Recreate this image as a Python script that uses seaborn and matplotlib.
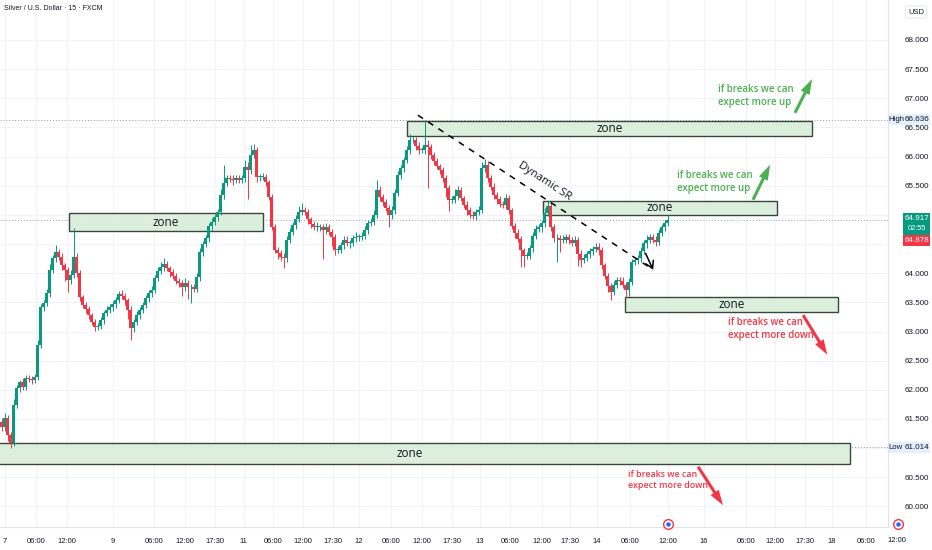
import numpy as np
import pandas as pd
import matplotlib
matplotlib.use("Agg")
import matplotlib.pyplot as plt
import matplotlib.transforms as mtransforms
from matplotlib.patches import Rectangle
import seaborn as sns

# ---- data (one candle every ~3 px) ----
closes = [
    61.36, 61.52, 61.23, 61.09, 61.74, 62.03, 62.13, 62.05, 62.20, 62.19, 62.17, 62.22, 62.77, 63.42, 63.49, 63.66,
    64.06, 64.26, 64.36, 64.28, 64.14, 64.06, 63.88, 63.97, 64.28, 64.00, 63.59, 63.45, 63.39, 63.28, 63.16, 63.08,
    63.09, 63.20, 63.32, 63.37, 63.42, 63.47, 63.54, 63.64, 63.61, 63.54, 63.37, 63.06, 63.16, 63.28, 63.37, 63.45,
    63.57, 63.66, 63.71, 63.92, 64.04, 64.11, 64.16, 64.09, 64.02, 63.95, 63.87, 63.83, 63.76, 63.83, 63.76, 63.76,
    63.73, 63.94, 64.36, 64.50, 64.60, 64.81, 64.88, 64.96, 65.05, 65.34, 65.55, 65.63, 65.62, 65.60, 65.63, 65.60,
    65.63, 65.82, 65.77, 66.03, 66.11, 65.65, 65.65, 65.65, 65.56, 65.31, 64.79, 64.40, 64.35, 64.28, 64.26, 64.57,
    64.71, 64.83, 64.93, 65.05, 65.08, 65.05, 64.93, 64.84, 64.79, 64.79, 64.79, 64.74, 64.79, 64.71, 64.62, 64.40,
    64.40, 64.48, 64.57, 64.52, 64.52, 64.60, 64.62, 64.62, 64.64, 64.74, 64.86, 64.88, 65.00, 65.43, 65.31, 65.22,
    65.12, 65.00, 65.08, 65.38, 65.68, 65.80, 65.94, 66.11, 66.28, 66.28, 66.18, 66.11, 66.11, 66.20, 66.16, 66.03,
    65.92, 65.84, 65.77, 65.63, 65.46, 65.26, 65.26, 65.32, 65.43, 65.29, 65.17, 65.08, 65.00, 64.98, 65.05, 65.08,
    65.80, 65.86, 65.63, 65.48, 65.34, 65.27, 65.19, 65.17, 65.29, 65.08, 64.81, 64.69, 64.59, 64.40, 64.30, 64.30,
    64.43, 64.64, 64.76, 64.79, 64.86, 65.03, 65.15, 64.79, 64.60, 64.60, 64.57, 64.57, 64.62, 64.57, 64.52, 64.57,
    64.33, 64.23, 64.26, 64.33, 64.38, 64.42, 64.45, 64.40, 64.14, 63.95, 63.78, 63.68, 63.80, 63.88, 63.87, 63.80,
    63.71, 63.85, 64.19, 64.23, 64.26, 64.38, 64.52, 64.57, 64.62, 64.57, 64.54, 64.69, 64.79, 64.86, 64.92,
]
first_open = 61.45

# wick sizes in cents above / below the body
wick_up = [
    6, 8, 5, 5, 10, 6, 4, 7, 5, 6, 4, 5, 8, 6, 5, 7,
    10, 6, 12, 5, 6, 4, 5, 8, 50, 6, 5, 4, 6, 5, 4, 5,
    6, 5, 4, 7, 5, 6, 5, 6, 8, 5, 4, 6, 5, 7, 5, 6,
    5, 6, 7, 5, 6, 8, 10, 5, 4, 6, 5, 5, 6, 8, 5, 6,
    5, 6, 7, 5, 6, 5, 7, 6, 5, 10, 30, 6, 5, 7, 6, 5,
    6, 12, 8, 17, 10, 6, 5, 7, 5, 4, 5, 6, 5, 4, 6, 7,
    6, 5, 7, 10, 12, 6, 5, 4, 6, 8, 5, 6, 7, 5, 4, 5,
    6, 5, 7, 6, 5, 6, 8, 5, 6, 7, 5, 6, 8, 17, 7, 5,
    6, 5, 7, 6, 8, 6, 5, 7, 10, 6, 5, 7, 6, 43, 8, 6,
    5, 6, 4, 5, 6, 5, 7, 12, 6, 5, 4, 6, 5, 6, 5, 7,
    10, 10, 6, 5, 7, 5, 6, 4, 6, 5, 4, 5, 6, 5, 4, 6,
    5, 6, 7, 5, 6, 8, 11, 6, 5, 7, 6, 8, 5, 6, 5, 6,
    5, 6, 7, 5, 6, 5, 6, 7, 5, 4, 6, 5, 7, 6, 5, 6,
    5, 7, 6, 5, 6, 7, 5, 8, 6, 5, 6, 7, 5, 6, 8,
]
wick_dn = [
    7, 6, 10, 8, 5, 6, 7, 5, 6, 5, 7, 6, 5, 6, 7, 5,
    6, 5, 7, 6, 8, 20, 20, 6, 5, 7, 6, 5, 8, 6, 5, 7,
    6, 5, 7, 6, 5, 6, 7, 5, 6, 8, 15, 21, 6, 5, 7, 6,
    5, 6, 7, 5, 6, 5, 7, 6, 8, 5, 6, 7, 15, 6, 20, 27,
    6, 5, 7, 6, 5, 6, 7, 5, 6, 5, 7, 6, 5, 8, 6, 5,
    6, 7, 50, 6, 5, 8, 6, 5, 7, 6, 5, 6, 10, 7, 17, 6,
    5, 6, 7, 5, 6, 5, 8, 6, 5, 7, 6, 50, 6, 5, 15, 8,
    6, 5, 7, 6, 8, 5, 6, 7, 5, 6, 7, 5, 6, 5, 7, 6,
    5, 20, 7, 6, 5, 6, 7, 5, 6, 5, 7, 6, 5, 6, 70, 7,
    6, 5, 7, 6, 15, 20, 6, 5, 7, 6, 5, 8, 6, 5, 7, 6,
    5, 6, 7, 5, 6, 8, 6, 5, 7, 6, 5, 8, 6, 30, 20, 6,
    5, 7, 6, 5, 8, 6, 5, 7, 6, 40, 20, 6, 5, 7, 6, 5,
    20, 12, 6, 5, 7, 6, 5, 8, 6, 5, 10, 14, 6, 5, 7, 6,
    12, 10, 6, 5, 7, 6, 5, 8, 6, 5, 7, 6, 5, 6, 5,
]

time_tick_pos = [1.2, 11.5, 21.8, 37.2, 50.8, 61.2, 71.2, 80.8, 90.5, 100.5, 110.5, 119.2, 129.8, 140.2,
                 150.2, 159.5, 169.5, 180.2, 189.5, 198.5, 209.5, 222.2, 234.2, 248.2, 257.8, 267.8,
                 276.8, 288.2]
time_tick_lbl = ["7", "06:00", "12:00", "9", "06:00", "12:00", "17:30", "11", "06:00", "12:00", "17:30",
                 "12", "06:00", "12:00", "17:30", "13", "06:00", "12:00", "17:30", "14", "06:00", "12:00",
                 "16", "06:00", "12:00", "17:30", "18", "06:00"]
extra_tick_lbl = "12:00"   # sits under the price scale, at x ~ 897 px

price_ticks = [60.0, 60.5, 61.0, 61.5, 62.0, 62.5, 63.0, 63.5, 64.0, 64.5, 65.0, 65.5, 66.0, 66.5, 67.0,
               67.5, 68.0]
hidden_ticks = [64.5, 65.0]   # covered by the last-price tag

high_price = 66.636
low_price = 61.014
last_price = 64.917
prev_price = 64.878

# drawn zones (candle index / price)
zone_x0 = [22.5, 135.2, 180.5, 207.8, -10.5]
zone_x1 = [87.2, 270.2, 258.5, 278.8, 282.8]
zone_lo = [64.72, 66.35, 65.00, 63.33, 60.73]
zone_hi = [65.03, 66.61, 65.24, 63.59, 61.09]

# dynamic S/R trend line
trend_x = [138.8, 217.2]
trend_y = [66.71, 64.06]

# breakout notes: tail, head, text anchor
note_color = ["#4caf50", "#4caf50", "#f23645", "#f23645"]
note_tail = [(264.5, 66.75), (250.5, 65.26), (267.2, 63.28), (232.2, 60.68)]
note_head = [(270.2, 67.33), (256.2, 65.86), (275.3, 62.60), (240.5, 60.02)]
note_text = ["if breaks we can\nexpect more up", "if breaks we can\nexpect more up",
             "if breaks we can\nexpect more down", "if breaks we can\nexpect more down"]
note_pos = [(238.8, 67.04), (225.2, 65.56), (242.2, 63.04), (208.8, 60.45)]
note_size = [7, 7, 6.9, 6.4]

# event flags on the time scale
flag_x = [222.2, 298.8]
flag_y = 59.70

UP = "#089981"
DOWN = "#f23645"
TXT = "#131722"

sns.set_style("white")
plt.rcParams['font.family'] = ['Liberation Sans', 'DejaVu Sans']

df = pd.DataFrame({"close": closes})
df["open"] = df["close"].shift(1).fillna(first_open)
df["high"] = df[["open", "close"]].max(axis=1) + np.array(wick_up) / 100
df["low"] = df[["open", "close"]].min(axis=1) - np.array(wick_dn) / 100
df["x"] = np.arange(len(df))
df["color"] = np.where(df["close"] >= df["open"], UP, DOWN)

fig = plt.figure(figsize=(9.32, 5.5), dpi=100)
ax = fig.add_axes([0, 23 / 550, 888 / 932, 527 / 550])
ax.set_xlim(-0.5, 295.5)
ax.set_ylim(59.647, 68.686)

# grid
for xp in time_tick_pos:
    ax.axvline(xp, color="#f0f3fa", lw=0.8, zorder=0)
for yp in price_ticks:
    ax.axhline(yp, color="#f0f3fa", lw=0.8, zorder=0)

# reference lines
ax.axhline(high_price, color="#9598a1", lw=0.7, ls=(0, (1, 2)), zorder=1)
ax.axhline(low_price, color="#9598a1", lw=0.7, ls=(0, (1, 2)), zorder=1)
ax.axhline(last_price, color="#9598a1", lw=0.7, ls=(0, (1, 2)), zorder=1)

# zones
for x0, x1, lo, hi in zip(zone_x0, zone_x1, zone_lo, zone_hi):
    ax.add_patch(Rectangle((x0, lo), x1 - x0, hi - lo, facecolor="#dbefdc", edgecolor="#2f3d33",
                           lw=1.0, alpha=0.95, zorder=2))
    ax.text((max(x0, -0.5) + x1) / 2 - (0 if x0 > -0.5 else 5), (lo + hi) / 2, "zone",
            ha="center", va="center", fontsize=8.5, color=TXT,
            family=["Open Sans", "DejaVu Sans"], zorder=6)

# candles
ax.vlines(df["x"], df["low"], df["high"], colors=df["color"], lw=0.7, zorder=3)
body = (df["close"] - df["open"]).abs().clip(lower=0.012)
ax.bar(df["x"], body, bottom=df[["open", "close"]].min(axis=1), width=0.75, color=df["color"],
       lw=0, zorder=4)

# dynamic SR
ax.plot(trend_x, trend_y, color="black", lw=1.1, ls=(0, (4, 4)), zorder=6)
ax.annotate("", xy=(trend_x[1], trend_y[1]),
            xytext=(trend_x[1] - 2.5, trend_y[1] + 0.28),
            arrowprops=dict(arrowstyle="->,head_length=0.5,head_width=0.3", color="black", lw=1.1,
                            shrinkA=0, shrinkB=0), zorder=6)
ax.text(181.0, 65.58, "Dynamic SR", rotation=-33.4, rotation_mode="anchor", ha="center",
        va="center", fontsize=8, color=TXT, family=["Open Sans", "DejaVu Sans"], zorder=6)

# breakout notes
for col, tail, head, txt, pos, fs in zip(note_color, note_tail, note_head, note_text, note_pos, note_size):
    ax.annotate("", xy=head, xytext=tail,
                arrowprops=dict(arrowstyle="simple,head_length=1.1,head_width=0.7,tail_width=0.22",
                                color=col, lw=0, shrinkA=0, shrinkB=0, mutation_scale=10), zorder=7)
    ax.text(pos[0], pos[1], txt, ha="left", va="center", fontsize=fs, color=col,
            linespacing=1.25, family=["Open Sans", "DejaVu Sans"], fontweight="semibold", zorder=7)

# axes / ticks
ax.yaxis.tick_right()
ax.set_yticks(price_ticks)
ax.set_yticklabels(["" if p in hidden_ticks else f"{p:.3f}" for p in price_ticks])
ax.set_xticks(time_tick_pos)
ax.set_xticklabels(time_tick_lbl)
ax.tick_params(axis="y", length=0, pad=12, labelsize=5.8, labelcolor=TXT)
ax.tick_params(axis="x", length=0, pad=8, labelsize=5.5, labelcolor=TXT)
for side in ["top", "left"]:
    ax.spines[side].set_visible(False)
ax.spines["right"].set_color("#e0e3eb")
ax.spines["bottom"].set_color("#e0e3eb")
ax.spines["right"].set_linewidth(0.8)
ax.spines["bottom"].set_linewidth(0.8)

fig.text(897 / 932, 1 - 540 / 550, extra_tick_lbl, ha="center", va="center", fontsize=5.5, color=TXT)

# title
fig.text(4 / 932, 1 - 9 / 550, "Silver / U.S. Dollar · 15 · FXCM", ha="left", va="center",
         fontsize=5.0, color=TXT)

# price-scale tags
trans = mtransforms.blended_transform_factory(ax.transAxes, ax.transData)
px = lambda p: p / 888.0
for val, name in [(high_price, "High"), (low_price, "Low")]:
    ax.add_patch(Rectangle((px(889), val - 0.095), px(41), 0.19, transform=trans, clip_on=False,
                           facecolor="#e3effd", edgecolor="none", zorder=10))
    ax.text(px(896), val, name, transform=trans, ha="center", va="center", fontsize=5.6,
            color=TXT, clip_on=False, zorder=11)
    ax.text(px(917), val, f"{val:.3f}", transform=trans, ha="center", va="center", fontsize=5.8,
            color=TXT, clip_on=False, zorder=11)

ax.add_patch(Rectangle((px(903), 64.655), px(27), 0.378, transform=trans, clip_on=False,
                       facecolor=UP, edgecolor="none", zorder=10))
ax.add_patch(Rectangle((px(903), 64.467), px(27), 0.188, transform=trans, clip_on=False,
                       facecolor=DOWN, edgecolor="none", zorder=10))
ax.text(px(916.5), 64.93, f"{last_price:.3f}", transform=trans, ha="center", va="center",
        fontsize=5.8, color="white", clip_on=False, zorder=11)
ax.text(px(916.5), 64.76, "02:55", transform=trans, ha="center", va="center", fontsize=5.3,
        color="white", clip_on=False, zorder=11)
ax.text(px(916.5), 64.56, f"{prev_price:.3f}", transform=trans, ha="center", va="center",
        fontsize=5.8, color="white", clip_on=False, zorder=11)

fig.text(916 / 932, 1 - 12 / 550, "USD", ha="center", va="center", fontsize=5.5, color=TXT,
         bbox=dict(boxstyle="round,pad=0.35", fc="white", ec="#e0e3eb", lw=0.6))

for xf in flag_x:
    ax.plot([xf], [flag_y], marker="o", ms=7, mfc="white", mec="#f23645", mew=1.0, clip_on=False,
            zorder=11)
    ax.plot([xf], [flag_y], marker="o", ms=3.2, mfc="#2962ff", mec="none", clip_on=False, zorder=12)

fig.savefig("out.png", dpi=100)
